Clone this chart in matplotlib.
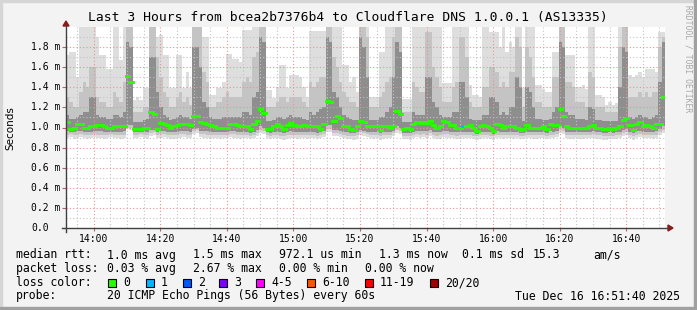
import numpy as np
import matplotlib.pyplot as plt
from matplotlib.patches import Rectangle, Polygon
from matplotlib import transforms

MONO = 'DejaVu Sans Mono'

# one value per minute, starting at this time
start = '13:51:40'

# median rtt (ms)
med = [1.05, 0.99, 1.00, 1.03, 1.03, 1.00, 1.00, 1.01, 1.01, 1.02, 1.02, 1.01, 1.00, 1.00, 1.01,
       1.01, 1.01, 1.01, 1.51, 1.45, 0.99, 0.99, 0.99, 1.00, 1.00, 1.15, 1.13, 0.99, 1.04, 1.03,
       1.02, 1.00, 1.01, 1.02, 1.03, 1.03, 1.03, 1.02, 1.11, 1.11, 1.05, 1.04, 1.03, 1.02, 1.01,
       1.00, 1.00, 1.00, 1.00, 1.03, 1.03, 1.02, 1.01, 1.01, 1.01, 0.99, 1.03, 1.06, 1.18, 1.14,
       0.99, 0.99, 1.01, 1.03, 1.01, 0.99, 1.02, 1.04, 1.02, 1.01, 1.01, 1.02, 1.01, 1.01, 1.01,
       1.01, 0.99, 1.03, 1.26, 1.25, 1.06, 1.11, 1.09, 1.01, 1.01, 0.99, 0.98, 1.01, 1.06, 1.05,
       1.01, 1.01, 1.01, 1.01, 0.98, 1.01, 1.01, 1.00, 1.01, 1.16, 1.13, 0.99, 1.00, 0.99, 1.03,
       1.05, 1.04, 1.05, 1.04, 1.06, 1.02, 1.00, 1.01, 1.06, 1.05, 1.02, 1.02, 1.00, 1.00, 1.01,
       1.01, 1.02, 1.00, 0.97, 1.01, 1.02, 1.01, 1.00, 0.97, 1.03, 1.02, 1.00, 1.01, 1.01, 1.01,
       1.00, 0.98, 0.99, 1.02, 1.00, 1.00, 1.00, 1.00, 1.01, 0.99, 1.03, 1.02, 1.02, 1.18, 1.11,
       1.01, 1.00, 1.00, 1.00, 1.00, 1.00, 1.00, 1.01, 1.02, 1.00, 1.00, 0.99, 0.99, 1.00, 0.99,
       1.00, 1.01, 1.07, 1.09, 1.02, 0.98, 1.03, 1.05, 1.01, 1.02, 1.01, 1.00, 1.03, 1.03, 1.30]

# lost pings per step (of 20)
loss = [0] * 15 * 7 + [0] * 14 + [1] + [0] * 15 * 4

# smoke: slowest ping, upper quantiles, lower quantiles, fastest ping (ms)
hi = [1.72, 1.75, 1.75, 1.50, 2.0, 2.0, 2.0, 2.0, 2.0, 1.90, 1.72, 1.72, 1.58, 1.58, 2.0,
      2.0, 1.67, 2.0, 2.0, 2.0, 1.27, 1.30, 1.27, 1.39, 1.39, 2.0, 2.0, 1.90, 1.92, 1.72,
      1.72, 1.39, 1.39, 1.72, 1.72, 1.39, 1.55, 1.39, 2.0, 2.0, 2.0, 1.90, 1.90, 1.32, 1.32,
      1.39, 1.39, 1.45, 1.73, 1.73, 1.68, 1.68, 1.65, 1.97, 1.97, 1.97, 2.0, 2.0, 2.0, 2.0,
      1.37, 1.37, 1.29, 1.40, 1.62, 1.62, 1.39, 1.52, 1.52, 1.52, 1.50, 1.40, 1.30, 1.96, 1.96,
      1.96, 1.96, 1.96, 2.0, 2.0, 2.0, 2.0, 2.0, 1.62, 1.62, 1.45, 1.50, 1.35, 2.0, 2.0,
      2.0, 1.30, 1.30, 1.30, 1.75, 1.75, 2.0, 2.0, 2.0, 2.0, 2.0, 1.28, 1.28, 1.28, 2.0,
      2.0, 2.0, 2.0, 2.0, 2.0, 2.0, 2.0, 2.0, 1.44, 1.44, 1.44, 2.0, 2.0, 2.0, 2.0,
      2.0, 1.42, 1.32, 1.32, 1.30, 2.0, 2.0, 1.95, 1.95, 1.95, 1.80, 2.0, 1.75, 1.85, 1.80,
      2.0, 2.0, 1.39, 2.0, 2.0, 2.0, 1.42, 1.42, 1.38, 1.35, 1.35, 1.75, 1.75, 2.0, 2.0,
      1.72, 1.72, 1.72, 1.40, 1.40, 1.42, 1.38, 2.0, 2.0, 1.32, 1.32, 1.30, 1.22, 1.25, 1.22,
      1.24, 2.0, 2.0, 2.0, 1.52, 1.50, 1.52, 1.55, 1.50, 1.58, 1.58, 1.58, 1.55, 1.95, 1.95]

q90 = [1.30, 1.25, 1.20, 1.20, 1.35, 1.45, 1.40, 1.60, 1.60, 1.30, 1.25, 1.25, 1.20, 1.20, 1.35,
       1.30, 1.25, 1.45, 2.0, 2.0, 1.15, 1.15, 1.15, 1.20, 1.20, 2.0, 2.0, 1.70, 1.50, 1.35,
       1.30, 1.20, 1.20, 1.30, 1.35, 1.25, 1.30, 1.22, 2.0, 2.0, 2.0, 1.55, 1.45, 1.20, 1.20,
       1.25, 1.25, 1.30, 1.35, 1.30, 1.30, 1.30, 1.30, 1.45, 1.50, 1.45, 1.70, 1.75, 2.0, 2.0,
       1.20, 1.20, 1.20, 1.25, 1.30, 1.30, 1.25, 1.30, 1.30, 1.30, 1.30, 1.25, 1.20, 1.45, 1.40,
       1.45, 1.50, 1.50, 2.0, 2.0, 1.70, 1.60, 1.45, 1.35, 1.30, 1.25, 1.25, 1.20, 2.0, 2.0,
       1.90, 1.20, 1.20, 1.20, 1.30, 1.35, 1.45, 1.50, 1.90, 2.0, 2.0, 1.15, 1.15, 1.15, 1.45,
       1.40, 1.35, 1.35, 1.95, 1.95, 1.60, 1.50, 1.40, 1.25, 1.25, 1.25, 1.40, 1.45, 1.90, 1.90,
       1.70, 1.25, 1.20, 1.20, 1.20, 1.40, 1.40, 1.60, 1.60, 1.55, 1.40, 1.45, 1.40, 1.55, 1.55,
       1.90, 1.80, 1.20, 1.80, 1.70, 1.50, 1.25, 1.25, 1.20, 1.20, 1.20, 1.50, 1.50, 2.0, 2.0,
       1.45, 1.45, 1.40, 1.25, 1.25, 1.25, 1.20, 1.55, 1.50, 1.20, 1.20, 1.20, 1.15, 1.15, 1.15,
       1.15, 1.80, 2.0, 2.0, 1.30, 1.30, 1.30, 1.35, 1.30, 1.35, 1.30, 1.35, 1.35, 1.80, 1.90]

q75 = [1.12, 1.08, 1.08, 1.10, 1.12, 1.15, 1.15, 1.30, 1.30, 1.12, 1.10, 1.10, 1.08, 1.08, 1.12,
       1.12, 1.10, 1.15, 1.85, 1.80, 1.05, 1.05, 1.05, 1.07, 1.08, 1.70, 1.70, 1.35, 1.20, 1.12,
       1.10, 1.07, 1.08, 1.10, 1.12, 1.10, 1.10, 1.08, 1.80, 1.80, 1.60, 1.25, 1.20, 1.10, 1.08,
       1.08, 1.08, 1.10, 1.10, 1.10, 1.10, 1.10, 1.10, 1.15, 1.15, 1.12, 1.30, 1.35, 1.90, 1.85,
       1.06, 1.06, 1.07, 1.10, 1.10, 1.08, 1.10, 1.12, 1.10, 1.10, 1.10, 1.08, 1.07, 1.15, 1.12,
       1.15, 1.18, 1.20, 1.90, 1.85, 1.35, 1.30, 1.20, 1.12, 1.10, 1.08, 1.07, 1.07, 1.90, 1.80,
       1.50, 1.07, 1.07, 1.07, 1.10, 1.10, 1.15, 1.20, 1.50, 1.85, 1.75, 1.05, 1.05, 1.05, 1.15,
       1.12, 1.12, 1.12, 1.50, 1.50, 1.25, 1.20, 1.12, 1.10, 1.10, 1.10, 1.15, 1.15, 1.45, 1.45,
       1.30, 1.08, 1.07, 1.07, 1.07, 1.12, 1.12, 1.30, 1.30, 1.25, 1.12, 1.15, 1.12, 1.20, 1.20,
       1.50, 1.40, 1.06, 1.40, 1.35, 1.20, 1.08, 1.08, 1.07, 1.07, 1.08, 1.15, 1.20, 1.85, 1.80,
       1.15, 1.12, 1.12, 1.08, 1.08, 1.08, 1.07, 1.20, 1.18, 1.07, 1.07, 1.06, 1.06, 1.06, 1.06,
       1.06, 1.40, 1.80, 1.75, 1.10, 1.08, 1.10, 1.12, 1.10, 1.10, 1.08, 1.10, 1.12, 1.45, 1.85]

q25 = [0.97, 0.96, 0.96, 0.97, 0.97, 0.96, 0.96, 0.96, 0.97, 0.97, 0.97, 0.96, 0.96, 0.96, 0.96,
       0.96, 0.96, 0.97, 1.02, 1.02, 0.96, 0.96, 0.96, 0.96, 0.96, 0.98, 0.98, 0.96, 0.97, 0.97,
       0.96, 0.96, 0.96, 0.96, 0.97, 0.97, 0.97, 0.96, 0.99, 1.00, 0.97, 0.97, 0.97, 0.96, 0.96,
       0.96, 0.96, 0.96, 0.96, 0.97, 0.97, 0.96, 0.96, 0.96, 0.96, 0.95, 0.96, 0.98, 1.01, 1.00,
       0.96, 0.95, 0.96, 0.96, 0.96, 0.95, 0.96, 0.97, 0.96, 0.96, 0.96, 0.96, 0.96, 0.96, 0.96,
       0.95, 0.96, 0.97, 1.02, 1.02, 0.98, 0.98, 0.97, 0.96, 0.96, 0.95, 0.95, 0.96, 0.98, 0.97,
       0.96, 0.96, 0.96, 0.96, 0.95, 0.96, 0.96, 0.96, 0.97, 1.01, 1.00, 0.95, 0.95, 0.95, 0.96,
       0.97, 0.97, 0.97, 0.97, 0.98, 0.96, 0.96, 0.96, 0.97, 0.97, 0.96, 0.96, 0.96, 0.96, 0.96,
       0.96, 0.96, 0.96, 0.94, 0.96, 0.96, 0.96, 0.96, 0.94, 0.97, 0.96, 0.96, 0.96, 0.96, 0.96,
       0.96, 0.95, 0.95, 0.96, 0.96, 0.96, 0.96, 0.96, 0.96, 0.95, 0.97, 0.96, 0.97, 1.01, 1.00,
       0.96, 0.96, 0.96, 0.96, 0.96, 0.96, 0.96, 0.96, 0.97, 0.96, 0.96, 0.95, 0.95, 0.96, 0.95,
       0.96, 0.96, 0.98, 0.99, 0.96, 0.95, 0.97, 0.97, 0.96, 0.96, 0.96, 0.96, 0.97, 0.99, 1.01]

q10 = [0.93, 0.94, 0.93, 0.93, 0.94, 0.93, 0.93, 0.93, 0.94, 0.93, 0.93, 0.93, 0.93, 0.94, 0.93,
       0.93, 0.93, 0.93, 1.00, 1.00, 0.93, 0.93, 0.94, 0.93, 0.93, 0.95, 0.96, 0.93, 0.94, 0.94,
       0.93, 0.93, 0.93, 0.93, 0.94, 0.94, 0.93, 0.93, 0.97, 0.98, 0.94, 0.94, 0.93, 0.93, 0.93,
       0.93, 0.93, 0.93, 0.93, 0.94, 0.94, 0.93, 0.93, 0.93, 0.93, 0.92, 0.93, 0.95, 0.98, 0.97,
       0.93, 0.92, 0.93, 0.93, 0.92, 0.92, 0.93, 0.93, 0.93, 0.93, 0.93, 0.93, 0.93, 0.93, 0.93,
       0.92, 0.93, 0.94, 0.99, 0.99, 0.95, 0.95, 0.94, 0.93, 0.92, 0.92, 0.92, 0.93, 0.96, 0.95,
       0.94, 0.93, 0.93, 0.93, 0.92, 0.93, 0.93, 0.93, 0.95, 0.98, 0.97, 0.92, 0.92, 0.92, 0.93,
       0.94, 0.93, 0.94, 0.93, 0.95, 0.93, 0.92, 0.93, 0.94, 0.94, 0.93, 0.93, 0.92, 0.93, 0.93,
       0.93, 0.93, 0.92, 0.92, 0.93, 0.93, 0.93, 0.92, 0.92, 0.93, 0.93, 0.93, 0.93, 0.93, 0.93,
       0.93, 0.92, 0.92, 0.93, 0.93, 0.93, 0.93, 0.93, 0.93, 0.92, 0.93, 0.93, 0.94, 0.98, 0.97,
       0.93, 0.93, 0.93, 0.93, 0.93, 0.93, 0.93, 0.93, 0.94, 0.93, 0.93, 0.92, 0.92, 0.92, 0.92,
       0.93, 0.93, 0.95, 0.96, 0.93, 0.92, 0.93, 0.94, 0.93, 0.93, 0.93, 0.93, 0.93, 0.96, 0.98]

lo = [0.90, 0.91, 0.89, 0.90, 0.91, 0.90, 0.89, 0.90, 0.91, 0.90, 0.90, 0.89, 0.90, 0.91, 0.90,
      0.90, 0.89, 0.90, 0.99, 0.98, 0.90, 0.90, 0.91, 0.90, 0.89, 0.92, 0.93, 0.90, 0.90, 0.91,
      0.90, 0.89, 0.89, 0.90, 0.90, 0.91, 0.90, 0.90, 0.94, 0.95, 0.91, 0.90, 0.90, 0.89, 0.90,
      0.90, 0.89, 0.90, 0.90, 0.91, 0.90, 0.90, 0.89, 0.90, 0.90, 0.89, 0.90, 0.92, 0.95, 0.94,
      0.90, 0.89, 0.90, 0.90, 0.89, 0.88, 0.89, 0.90, 0.90, 0.89, 0.90, 0.90, 0.89, 0.90, 0.90,
      0.89, 0.90, 0.91, 0.96, 0.96, 0.92, 0.92, 0.91, 0.90, 0.89, 0.89, 0.88, 0.89, 0.93, 0.92,
      0.91, 0.90, 0.89, 0.90, 0.88, 0.89, 0.90, 0.90, 0.92, 0.95, 0.94, 0.89, 0.89, 0.88, 0.90,
      0.91, 0.90, 0.91, 0.90, 0.92, 0.90, 0.89, 0.89, 0.91, 0.90, 0.90, 0.90, 0.89, 0.89, 0.90,
      0.90, 0.90, 0.89, 0.88, 0.89, 0.90, 0.90, 0.89, 0.88, 0.90, 0.90, 0.89, 0.90, 0.90, 0.89,
      0.90, 0.89, 0.89, 0.90, 0.90, 0.89, 0.89, 0.90, 0.90, 0.89, 0.90, 0.90, 0.91, 0.95, 0.94,
      0.90, 0.89, 0.89, 0.90, 0.89, 0.89, 0.90, 0.90, 0.90, 0.89, 0.89, 0.88, 0.88, 0.89, 0.89,
      0.89, 0.90, 0.92, 0.93, 0.90, 0.88, 0.90, 0.91, 0.90, 0.90, 0.90, 0.89, 0.90, 0.93, 0.95]

title = 'Last 3 Hours from bcea2b7376b4 to Cloudflare DNS 1.0.0.1 (AS13335)'
loss_labels = ['0', '1', '2', '3', '4-5', '6-10', '11-19', '20/20']
loss_colors = ['#26ff00', '#00b8ff', '#0059ff', '#7e00ff', '#ff00ff', '#ff5500', '#ff0000', '#a10000']
rtt_row = [('median rtt:', 16), ('1.0 ms avg', 107), ('1.5 ms max', 193), ('972.1 us min', 279),
           ('1.3 ms now', 379), ('0.1 ms sd', 462), ('15.3', 533), ('am/s', 593)]
loss_row = [('packet loss:', 16), ('0.03 % avg', 107), ('2.67 % max', 193),
            ('0.00 % min', 279), ('0.00 % now', 365)]
probe = '20 ICMP Echo Pings (56 Bytes) every 60s'
stamp = 'Tue Dec 16 16:51:40 2025'

W, H = 697, 310
fig = plt.figure(figsize=(W / 100, H / 100), dpi=100, facecolor='#f3f3f3')
pix = transforms.Affine2D().scale(1, -1).translate(0, H)  # pixel coords, y down

# frame
fig.patches.append(Rectangle((0, 0), W, 2, transform=pix, color='#d6d6d6'))
fig.patches.append(Rectangle((0, 0), 2, H, transform=pix, color='#d6d6d6'))
fig.patches.append(Rectangle((W - 3, 0), 3, H, transform=pix, color='#a0a0a0'))
fig.patches.append(Rectangle((0, H - 3), W, 3, transform=pix, color='#a0a0a0'))

ax = fig.add_axes([66 / W, 1 - 228 / H, 599 / W, 201 / H])
ax.set_facecolor('white')

h, m, s = [int(v) for v in start.split(':')]
t0 = h * 60 + m + s / 60.0
n = len(med)
edges = t0 + np.arange(n + 1)


def ext(a):
    return np.append(a, a[-1])


# smoke
ax.fill_between(edges, ext(lo), ext(hi), step='post', color='#dedede', lw=0, zorder=1)
ax.fill_between(edges, ext(q10), ext(q90), step='post', color='#c4c4c4', lw=0, zorder=1.1)
ax.fill_between(edges, ext(q25), ext(q75), step='post', color='#8e8e8e', lw=0, zorder=1.2)

# grid on top of the smoke
for g in np.arange(np.ceil(t0 / 5) * 5, t0 + n, 5):
    major = int(round(g)) % 20 == 0
    ax.axvline(g, color='#f09090' if major else '#c4c4c4', lw=0.8,
               ls=(0, (1, 2)), zorder=2)
for g in np.arange(1, 20):
    major = g % 2 == 0
    ax.axhline(g / 10, color='#f09090' if major else '#c4c4c4', lw=0.8,
               ls=(0, (1, 2)), zorder=2)

# median, coloured by loss
ax.hlines(med, edges[:-1], edges[1:], colors=[loss_colors[min(l, 3)] for l in loss],
          lw=2.1, linestyles='solid', capstyle='projecting', zorder=3)

ax.set_xlim(t0, t0 + n)
ax.set_ylim(0, 2.0)
for sp in ax.spines.values():
    sp.set_visible(False)

xt = np.arange(np.ceil(t0 / 20) * 20, t0 + n, 20)
ax.set_xticks(xt)
ax.set_xticklabels(['%02d:%02d' % (int(v) // 60, int(v) % 60) for v in xt],
                   family=MONO, fontsize=7)
ax.set_yticks(np.arange(0, 2.0, 0.2))
ax.set_yticklabels([])
ax.tick_params(axis='x', length=2, pad=2, color='#c06060')
ax.tick_params(axis='y', length=3, pad=0, color='#c06060')

ylab_tr = transforms.blended_transform_factory(fig.transFigure, ax.transData)
for v in np.arange(0, 2.0, 0.2):
    lab = '0.0' if v == 0 else '%.1f m' % v
    ax.text(31 / W, v, lab, transform=ylab_tr, family=MONO, fontsize=7,
            ha='left', va='center', clip_on=False)

# axes with arrows
ax_col = '#404040'
fig.lines.append(plt.Line2D([62, 668], [228, 228], transform=pix, color=ax_col, lw=1))
fig.lines.append(plt.Line2D([66, 66], [232, 26], transform=pix, color=ax_col, lw=1))
fig.patches.append(Polygon([(668, 225), (668, 231), (673, 228)], closed=True,
                           transform=pix, color='#8b1a1a'))
fig.patches.append(Polygon([(63, 26), (69, 26), (66, 21)], closed=True,
                           transform=pix, color='#8b1a1a'))

# texts
fig.text(348 / W, 1 - 18 / H, title, family=MONO, fontsize=9.4, ha='center', va='center')
fig.text(10 / W, 1 - 128 / H, 'Seconds', fontsize=7.5, rotation=90, ha='center', va='center')
fig.text(688 / W, 1 - 5 / H, 'RRDTOOL / TOBI OETIKER', family=MONO, fontsize=5.8,
         rotation=-90, ha='center', va='top', color='#a8a8a8')

fs = 8.3
for txt, x in rtt_row:
    fig.text(x / W, 1 - 255 / H, txt, family=MONO, fontsize=fs, ha='left', va='center')
for txt, x in loss_row:
    fig.text(x / W, 1 - 268.5 / H, txt, family=MONO, fontsize=fs, ha='left', va='center')
fig.text(16 / W, 1 - 282.5 / H, 'loss color:', family=MONO, fontsize=fs, ha='left', va='center')
box_x = [108, 146, 183, 219, 256, 307, 365, 430]
for lab, col, bx in zip(loss_labels, loss_colors, box_x):
    fig.patches.append(Rectangle((bx, 279), 8, 8, transform=pix, facecolor=col,
                                 edgecolor='black', lw=0.8))
    fig.text((bx + 15) / W, 1 - 282.5 / H, lab, family=MONO, fontsize=fs, ha='left', va='center')
fig.text(16 / W, 1 - 296 / H, 'probe:', family=MONO, fontsize=fs, ha='left', va='center')
fig.text(107 / W, 1 - 296 / H, probe, family=MONO, fontsize=fs, ha='left', va='center')
fig.text(680 / W, 1 - 296 / H, stamp, family=MONO, fontsize=fs, ha='right', va='center')

fig.savefig('out.png', dpi=100, facecolor=fig.get_facecolor())
